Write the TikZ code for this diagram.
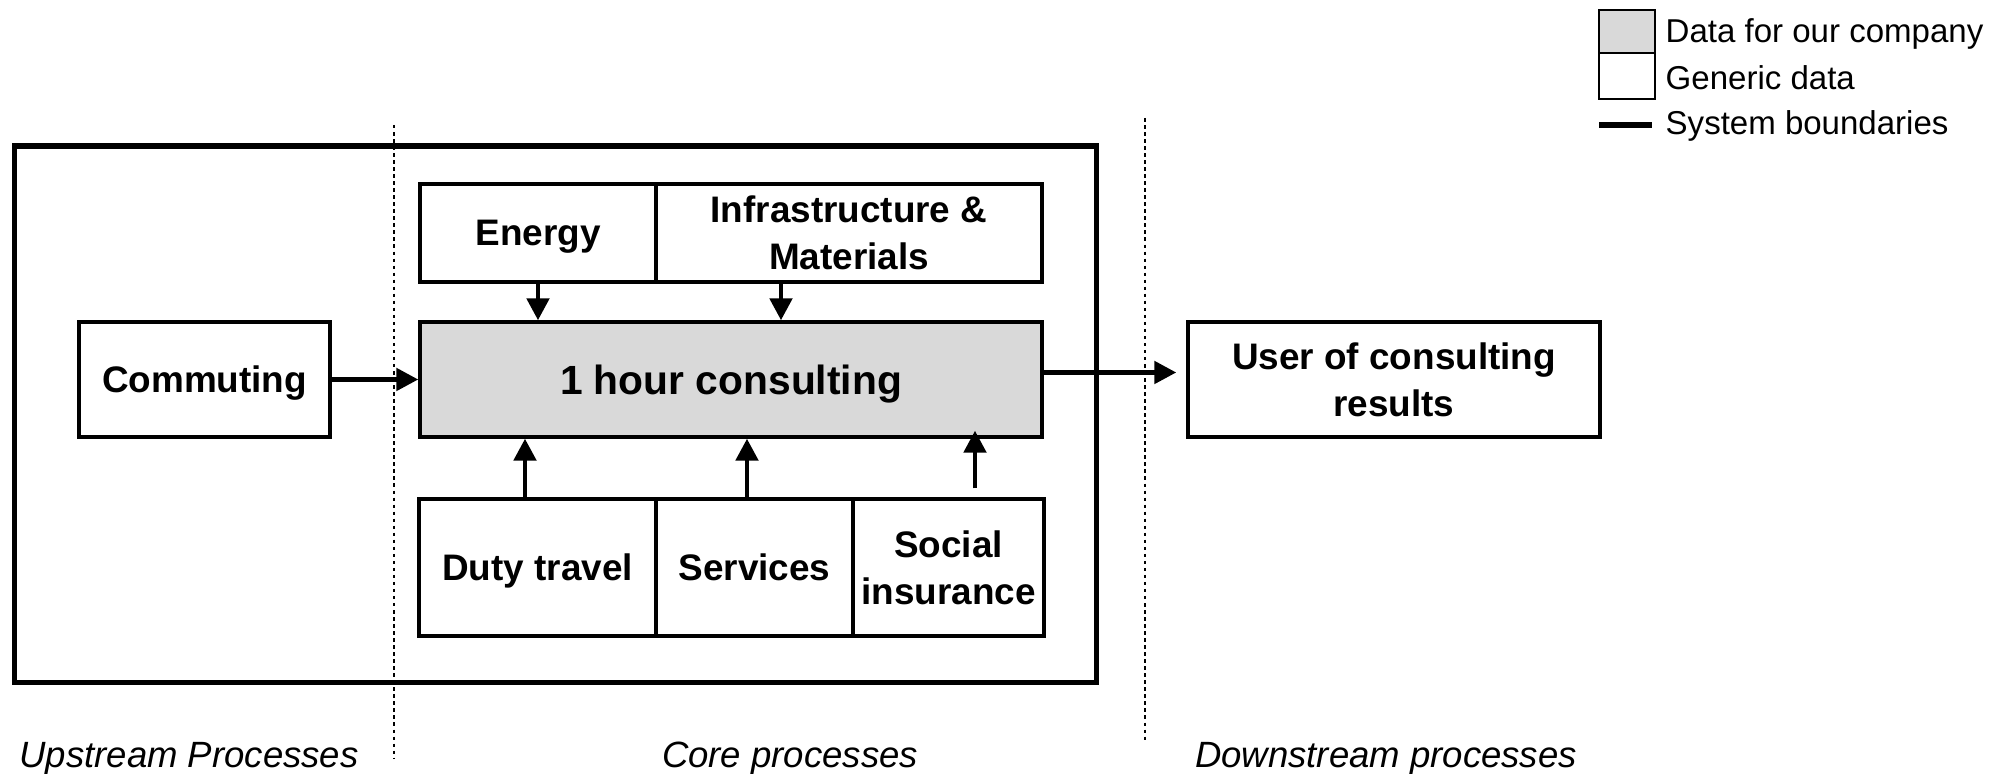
\documentclass[tikz,border=0pt]{standalone}
\usepackage{fontspec}
\setmainfont{Liberation Sans}
\usetikzlibrary{positioning}
\usetikzlibrary{arrows.meta}
\definecolor{mygrey}{RGB}{217,217,217}
\tikzstyle{box}=[draw,line width=0.95pt,inner sep=0pt,align=center,text depth=0pt,minimum height=0.98cm,font=\bfseries\fontsize{10.5}{13.4}\selectfont]
\tikzstyle{box grey}=[box,fill=mygrey]
\tikzstyle{boundary}=[line width=1.7pt]
\tikzstyle{phase line}=[line width=0.55pt,dash pattern=on 1pt off 1pt]
\tikzstyle{phase label}=[anchor=base,inner sep=0pt,font=\itshape\fontsize{10.4}{12}\selectfont]
\tikzstyle{legend text}=[anchor=base west,inner sep=0pt,font=\fontsize{9.4}{11}\selectfont]
\tikzstyle{connect arrow}=[-{Triangle[length=0.22cm,width=0.22cm]},line width=1.4pt]

\begin{document}
\begin{tikzpicture}[on grid]
\useasboundingbox (0,0) rectangle (20.05,7.74);

% System boundaries and phases
\draw[boundary] (0.145,0.915) rectangle (10.965,6.28);
\draw[phase line] (3.94,6.49) -- (3.94,0.16);
\draw[phase line] (11.45,6.56) -- (11.45,0.31);

% Core process
\node [box grey,minimum width=6.22cm,minimum height=1.15cm,font=\bfseries\fontsize{11.6}{13.4}\selectfont] (C) at (7.31,3.945) {1 hour consulting};

% Upstream / downstream
\node [box,minimum width=2.51cm,minimum height=1.15cm] (Com) [left=5.265cm of C] {Commuting};
\node [box,minimum width=4.12cm,minimum height=1.15cm] (U) [right=6.63cm of C] {User of consulting\\results};

% Inputs above
\node [box,minimum width=2.36cm] (E) [above left=1.465cm and 1.93cm of C] {Energy};
\node [box,minimum width=3.86cm] (I) [right=3.11cm of E] {Infrastructure \&\\Materials};

% Inputs below
\node [box,minimum width=2.37cm,minimum height=1.37cm] (D) [below left=1.88cm and 1.935cm of C] {Duty travel};
\node [box,minimum width=1.97cm,minimum height=1.37cm] (S) [right=2.17cm of D] {Services};
\node [box,minimum width=1.91cm,minimum height=1.37cm] (SI) [right=1.94cm of S] {Social\\insurance};

\begin{scope}[connect arrow]
    \draw (Com) -- (C);
    \draw ([yshift=0.07cm]C.east) -- ([yshift=0.07cm]C.east -| U.west) [shorten >=0.1cm];
    \draw (E.south) -- (E.south |- C.north);
    \draw ([xshift=-0.68cm]I.south) -- ([xshift=-0.68cm]I.south |- C.north);
    \draw ([xshift=-0.125cm]D.north) -- ([xshift=-0.125cm]D.north |- C.south);
    \draw ([xshift=-0.075cm]S.north) -- ([xshift=-0.075cm]S.north |- C.south);
    \draw [shorten <=0.09cm,shorten >=-0.08cm] ([xshift=0.265cm]SI.north) -- ([xshift=0.265cm]SI.north |- C.south);
\end{scope}

% Phase labels
\node [phase label] (up) at (1.89,0.06) {Upstream Processes};
\node [phase label] (core) at (7.90,0.06) {Core processes};
\node [phase label] (down) at (13.86,0.06) {Downstream processes};

% Legend
\node [draw,line width=0.8pt,fill=mygrey,minimum width=0.56cm,minimum height=0.43cm,inner sep=0pt] (lg grey) at (16.27,7.425) {};
\node [draw,line width=0.8pt,minimum width=0.56cm,minimum height=0.46cm,inner sep=0pt] (lg white) [below=0.445cm of lg grey] {};
\coordinate (lg a) at (15.99,6.49);
\coordinate (lg b) at (16.52,6.49);
\draw [boundary] (lg a) -- (lg b);
\node [legend text] (t1) at (16.65,7.31) {Data for our company};
\node [legend text] (t2) at (16.65,6.84) {Generic data};
\node [legend text] (t3) at (16.65,6.39) {System boundaries};

\end{tikzpicture}
\end{document}
